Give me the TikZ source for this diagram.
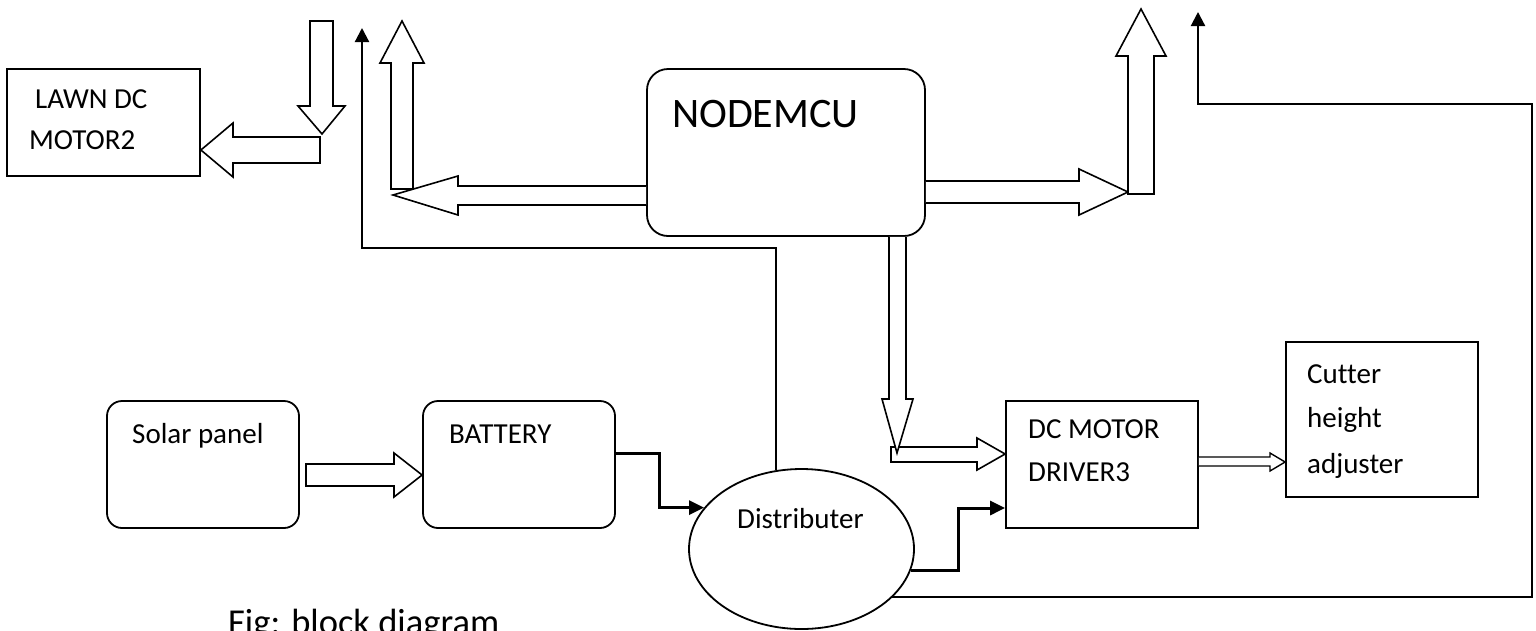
\documentclass[tikz,border=0pt]{standalone}
\usepackage{fontspec}
\setmainfont{Carlito}[Ligatures=NoCommon]
\usetikzlibrary{arrows.meta,calc,shapes.geometric}
\begin{document}
\begin{tikzpicture}[x=1pt,y=-1pt,
  box/.style={draw, line width=1.8pt, inner sep=0pt},
  rbox/.style={box, rounded corners=15pt},
  lbl/.style={anchor=base west, inner sep=0pt, font=\fontsize{29}{34}\selectfont},
  blockarrow/.style={draw, fill=white, line width=1.6pt, line join=miter},
  sigline/.style={line width=2.2pt, -{Triangle[length=14pt,width=14pt]}},
  powerline/.style={line width=3pt, -{Triangle[length=15pt,width=14pt]}},
]
\fill[white] (0,0) rectangle (1536,630);
\useasboundingbox (0,0) rectangle (1536,630);

% blocks
\node[box, minimum width=193pt, minimum height=107pt] (lawn) at (103.5,122.5) {};
\node[box, rounded corners=21pt, minimum width=278pt, minimum height=167pt] (mcu) at (786,152.5) {};
\node[rbox, minimum width=192pt, minimum height=127pt] (solar) at (203,464.5) {};
\node[rbox, minimum width=192pt, minimum height=127pt] (batt) at (519,464.5) {};
\node[box, ellipse, minimum width=225pt, minimum height=160pt] (dist) at (801.5,549) {};
\node[box, minimum width=192pt, minimum height=127pt] (drv) at (1102,464.5) {};
\node[box, minimum width=192pt, minimum height=155pt] (cut) at (1382,419.5) {};

% texts
\node[lbl] (lawnA) at (35,108) {LAWN DC};
\node[lbl] (lawnB) at (29,149) {MOTOR2};
\node[lbl, font=\fontsize{42}{50}\selectfont] (mcut) at (672,127) {NODEMCU};
\node[lbl] (solart) at (132,443) {Solar panel};
\node[lbl] (battt) at (449,443) {BATTERY};
\node[lbl] (distt) at (737,528) {Distributer};
\node[lbl] (drvA) at (1028,438) {DC MOTOR};
\node[lbl] (drvB) at (1028,481) {DRIVER3};
\node[lbl] (cutA) at (1307,383) {Cutter};
\node[lbl] (cutB) at (1307,427) {height};
\node[lbl] (cutC) at (1307,473) {adjuster};
\node[lbl, font=\fontsize{36.5}{43}\selectfont] (cap) at (228,634) {Fig: block diagram};

% hollow block arrows
% left arrow into LAWN DC MOTOR2
\draw[blockarrow] (320,137) -- (233,137) -- (233,123) -- (lawn.east |- 0,150) -- (233,177) -- (233,163) -- (320,163) -- cycle;
% down arrow (top left)
\draw[blockarrow] (310,21) -- (333,21) -- (333,106) -- (345,106) -- (322,134) -- (298,106) -- (310,106) -- cycle;
% left arrow out of NODEMCU
\draw[blockarrow] (mcu.west |- 0,186) -- (458,186) -- (458,176) -- (393,195) -- (458,215) -- (458,205) -- (mcu.west |- 0,205);
% up arrow (left middle)
\draw[blockarrow] (391,189) -- (391,63) -- (380,63) -- (402,21) -- (424,63) -- (413,63) -- (413,189) -- cycle;
% right arrow out of NODEMCU
\draw[blockarrow] (mcu.east |- 0,181) -- (1079,181) -- (1079,169) -- (1128,192) -- (1079,215) -- (1079,203) -- (mcu.east |- 0,203);
% up arrow (top right)
\draw[blockarrow] (1128,194) -- (1128,56) -- (1116,56) -- (1141,9) -- (1166,56) -- (1154,56) -- (1154,194) -- cycle;
% right arrow into DC MOTOR DRIVER3
\draw[blockarrow] (891,447) -- (977,447) -- (977,438) -- (drv.west |- 0,454) -- (977,470) -- (977,462) -- (891,462) -- cycle;
% down arrow out of NODEMCU
\draw[blockarrow] (mcu.south -| 889,0) -- (889,399) -- (882,399) -- (897,453) -- (913,399) -- (906,399) -- (mcu.south -| 906,0);
% solar panel -> battery
\draw[blockarrow] (306,464) -- (394,464) -- (394,453) -- (batt.west |- 0,475) -- (394,497) -- (394,486) -- (306,486) -- cycle;
% driver -> cutter (thin double arrow)
\draw[blockarrow, line width=1.4pt] (drv.east |- 0,457) -- (1270,457) -- (1270,453) -- (cut.west |- 0,462) -- (1270,471) -- (1270,466) -- (drv.east |- 0,466);

% line connectors
\coordinate (top1) at (362,28);
\coordinate (bend1) at (362,248);
\draw[sigline] (dist.108) |- (bend1) -- (top1);

\coordinate (top2) at (1198,12);
\coordinate (bend2) at (1532,104);
\draw[sigline] (dist.-28) -| (bend2) -| (top2);

\coordinate (bout) at (batt.east |- 0,453);
\draw[powerline] (bout) -| ([xshift=-45pt]dist.157) -- (dist.157);

\coordinate (drvin) at (drv.west |- 0,508);
\draw[powerline] (dist.-11) -| ([xshift=-47pt]drvin) -- (drvin);
\end{tikzpicture}
\end{document}
